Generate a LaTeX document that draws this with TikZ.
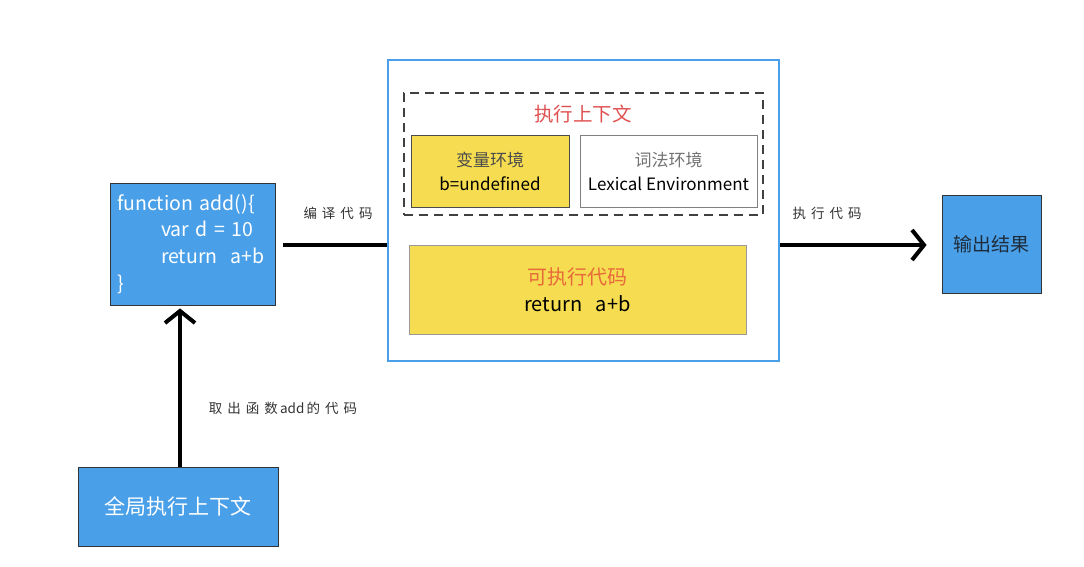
\documentclass[tikz,border=0pt]{standalone}
\usepackage{fontspec}
\newfontfamily\cjk{Noto Sans CJK SC}
\usepackage{tikz}
\usetikzlibrary{arrows.meta, positioning, calc}
\definecolor{blue1}{RGB}{74, 160, 232}
\definecolor{yellow1}{RGB}{245, 220, 80}
\definecolor{red1}{RGB}{224, 80, 80}
\definecolor{orange1}{RGB}{232, 106, 58}
\definecolor{navy1}{RGB}{30, 45, 61}
\newcommand\chgap{\hspace{5pt}}

\tikzset{
  bluebox/.style={draw=black!80, fill=blue1, line width=0.8pt, inner sep=0pt},
  envbox/.style={line width=0.8pt, inner sep=0pt, align=center, font=\cjk\fontsize{17}{24}\selectfont},
  flowlabel/.style={font=\cjk\fontsize{13.5}{14}\selectfont, text=black!80},
  thickarrow/.style={line width=4pt, black, -{Straight Barb[length=12pt, width=30pt]}},
}

\begin{document}
\begin{tikzpicture}[x=1pt, y=-1pt]
  \useasboundingbox (0,0) rectangle (1084,566);

  % left side: function code and global context
  \node[bluebox, minimum width=165, minimum height=122, text width=151, align=left, text=white,
        font=\cjk\fontsize{19.5}{26.7}\selectfont] (code) at (192.5,244) {
    function add()\{\\
    \hspace*{44pt}var d = 10\\
    \hspace*{44pt}return\ \ a+b\\
    \}
  };
  \node[bluebox, minimum width=200, minimum height=79, text=white,
        font=\cjk\fontsize{21}{24}\selectfont] (global) at (178,506.5) {全局执行上下文};

  % compiled result
  \node[draw=blue1, line width=1.5pt, fill=white, minimum width=391, minimum height=301] (outer) at (583.5,210.5) {};
  \node[draw=black!75, dash pattern=on 9pt off 6pt, line width=1.2pt, minimum width=359, minimum height=122] (ctx) at (583.5,154) {};
  \node[font=\cjk\fontsize{19.5}{22}\selectfont, text=red1] (ctxtitle) at (583,114) {执行上下文};
  \node[envbox, draw=black!70, fill=yellow1, minimum width=158, minimum height=72] (varenv) at (490,171)
    {\textcolor{black!70}{变量环境}\\b=undefined};
  \node[envbox, draw=black!50, fill=white, minimum width=177, minimum height=72] (lexenv) at (668.5,171)
    {\textcolor{black!55}{词法环境}\\Lexical Environment};
  \node[draw=black!40, fill=yellow1, line width=0.8pt, minimum width=337, minimum height=89, align=center,
        font=\cjk\fontsize{20}{27}\selectfont] (exec) at (577.5,289.5)
    {\textcolor{orange1}{可执行代码}\\return\ \ \ a+b};

  % output
  \node[bluebox, minimum width=99, minimum height=98, text=navy1,
        font=\cjk\fontsize{19}{20}\selectfont] (result) at (991.5,244) {输出结果};

  % connectors
  \draw[line width=4pt, black, shorten <=8pt] (code.east |- 0,245) -- (outer.west |- 0,245);
  \draw[thickarrow, shorten >=15pt] (outer.east |- 0,245) -- (result.west |- 0,245);
  \draw[thickarrow, shorten >=3pt] (global.north -| 180,0) -- (code.south -| 180,0);

  \node[flowlabel] (compilelabel) at (338,213) {编\chgap 译\chgap 代\chgap 码};
  \node[flowlabel] (runlabel) at (827,213) {执\chgap 行\chgap 代\chgap 码};
  \node[flowlabel] (fetchlabel) at (283,408) {取\chgap 出\chgap 函\chgap 数\,add\,的\chgap 代\chgap 码};
\end{tikzpicture}
\end{document}
